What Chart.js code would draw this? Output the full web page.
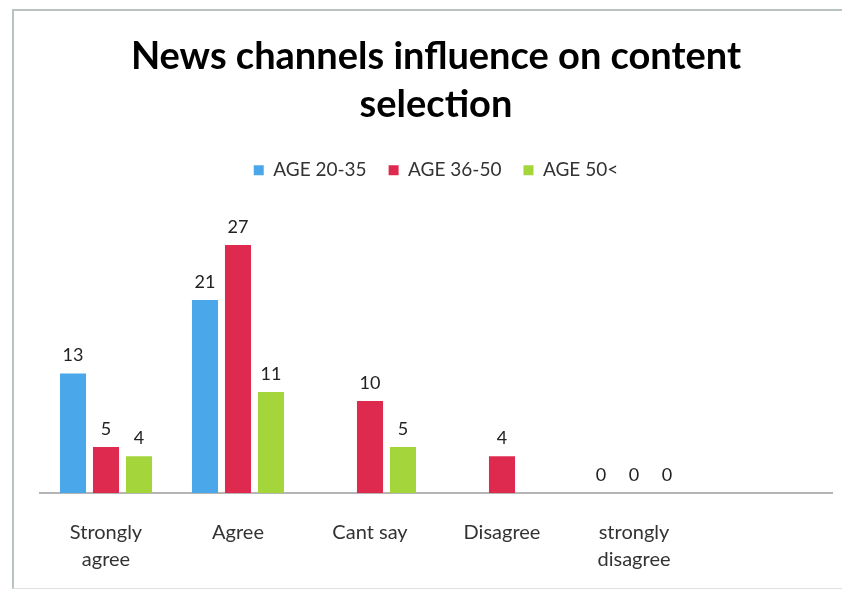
<!DOCTYPE html>
<html>
<head>
<meta charset="utf-8">
<script src="https://cdn.jsdelivr.net/npm/chart.js@4.4.1/dist/chart.umd.min.js"></script>
<style>
  html, body { margin: 0; padding: 0; background: #fff; }
  #wrap { position: relative; width: 842px; height: 591px; }
  #frame { position: absolute; left: 12px; top: 9px; right: -4px; bottom: 2px;
           border-left: 2px solid #b9c4c1; border-top: 2px solid #b9c4c1; border-bottom: 1px solid #dde3e1; }
  canvas { position: absolute; left: 0; top: 0; }
</style>
</head>
<body>
<div id="wrap">
  <div id="frame"></div>
  <canvas id="myChart" width="842" height="591"></canvas>
</div>
<script>
// categories (last slot is an empty one, the axis runs on past the data)
const categories = [['Strongly', 'agree'], 'Agree', 'Cant say', 'Disagree', ['strongly', 'disagree'], ''];
const seriesNames = ['AGE 20-35', 'AGE 36-50', 'AGE 50<'];
const age20to35 = [13, 21, null, null, 0, null];
const age36to50 = [5, 27, 10, 4, 0, null];
const age50plus = [4, 11, 5, null, 0, null];
const colors = ['#4aa8ea', '#df2a50', '#a4d63c'];

// value labels above each bar
const valueLabels = {
  id: 'valueLabels',
  afterDatasetsDraw(chart) {
    const ctx = chart.ctx;
    ctx.save();
    ctx.font = '18px Lato';
    ctx.fillStyle = '#222';
    ctx.textAlign = 'center';
    ctx.textBaseline = 'bottom';
    chart.data.datasets.forEach((ds, i) => {
      chart.getDatasetMeta(i).data.forEach((bar, j) => {
        const v = ds.data[j];
        if (v === null) return;
        ctx.fillText(String(v), bar.x, bar.y - 9);
      });
    });
    ctx.restore();
  }
};

function initialize() {
  const ctx = document.getElementById('myChart').getContext('2d');
  const myChart = new Chart(ctx, {
    type: 'bar',
    data: {
      labels: categories,
      datasets: [
        { label: seriesNames[0], data: age20to35, backgroundColor: colors[0] },
        { label: seriesNames[1], data: age36to50, backgroundColor: colors[1] },
        { label: seriesNames[2], data: age50plus, backgroundColor: colors[2] }
      ]
    },
    options: {
      responsive: false,
      animation: false,
      layout: { padding: { left: 40, right: 10, top: 33, bottom: 18 } },
      datasets: { bar: { categoryPercentage: 0.75, barPercentage: 0.79 } },
      plugins: {
        title: {
          display: true,
          text: ['News channels influence on content', 'selection'],
          font: { family: 'Lato', size: 38, weight: 'bold', lineHeight: 1.26 },
          color: '#000',
          padding: { top: 0, bottom: 10 }
        },
        legend: {
          labels: {
            font: { family: 'Lato', size: 19 },
            color: '#333',
            boxWidth: 10,
            boxHeight: 10,
            padding: 22
          }
        },
        tooltip: { enabled: false }
      },
      scales: {
        x: {
          grid: { display: false, drawTicks: false },
          border: { color: '#b5b5b5', width: 2 },
          ticks: { font: { family: 'Lato', size: 20, lineHeight: 1.35 }, color: '#333', padding: 26, maxRotation: 0, autoSkip: false },
          afterFit(scale) { scale.height = 80; }
        },
        y: {
          display: false,
          beginAtZero: true,
          max: 33
        }
      }
    },
    plugins: [valueLabels]
  });
}
initialize();
</script>
</body>
</html>
